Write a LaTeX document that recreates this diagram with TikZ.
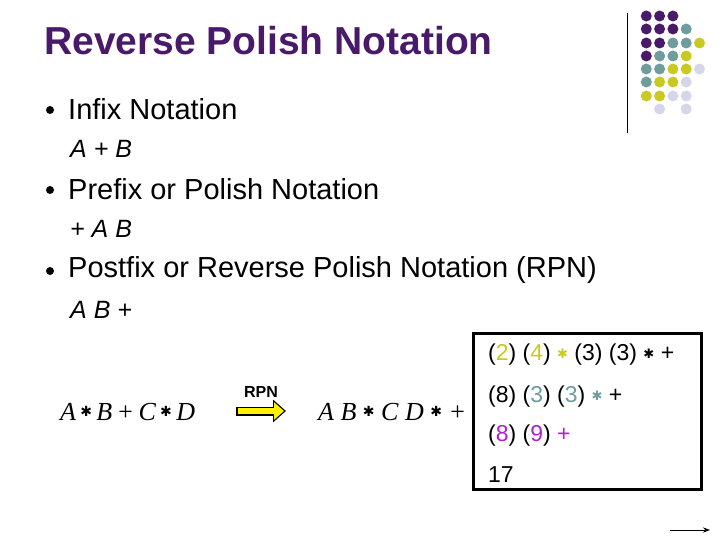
\documentclass[tikz,border=0pt]{standalone}
\usepackage{fontspec}
\setmainfont{Liberation Sans}
\newfontfamily\tms{Liberation Serif}
\newfontfamily\djvfont{DejaVu Sans}
\usetikzlibrary{arrows.meta}
\definecolor{pur}{HTML}{4A1A6A}
\definecolor{tea}{HTML}{6F9C9C}
\definecolor{yel}{HTML}{C9C923}
\definecolor{lav}{HTML}{D6D6EA}
\definecolor{mag}{HTML}{B020D0}
\newcommand{\hst}{{\djvfont\fontsize{14}{14}\selectfont\raisebox{4pt}{✱}}}
\newcommand{\bst}{{\djvfont\fontsize{13}{13}\selectfont\raisebox{2pt}{✱}}}
\newcommand{\myspc}{\kern6.5pt}
\tikzset{txt/.style={anchor=west,inner sep=0pt},
 bul/.style={circle,fill=black,inner sep=0pt,minimum size=8pt},
 dot/.style={circle,inner sep=0pt,minimum size=11pt}}
\begin{document}
\begin{tikzpicture}[x=1pt,y=-1pt]
\useasboundingbox (0,0) rectangle (720,540);
\node[txt,text=pur,font=\bfseries\fontsize{39}{44}\selectfont] (title) at (44,41) {Reverse Polish Notation};
\draw[thin] (627,13) -- (627,133);
\foreach \r/\cols in {16/{pur,pur,pur},29/{pur,pur,pur,tea},43/{pur,pur,tea,tea,yel},56/{pur,tea,tea,yel},69/{tea,tea,yel,yel,lav},82/{tea,yel,yel,lav},96/{yel,yel,lav,lav}}{
 \foreach \c [count=\i] in \cols { \node[dot,fill=\c] (d\r\i) at (633+13.3*\i,\r) {}; }}
\node[dot,fill=lav] (e1) at (659.6,109) {};
\node[dot,fill=lav] (e2) at (686.2,109) {};
\def\bs{\fontsize{29}{34}\selectfont}
\def\ss{\fontsize{25}{30}\selectfont\itshape}
\node[bul] (b1) at (50,110) {}; \node[txt,font=\bs] (t1) at (68,109) {Infix Notation};
\node[txt,font=\ss] (s1) at (70,149) {A + B};
\node[bul] (b2) at (50,190) {}; \node[txt,font=\bs] (t2) at (68,189) {Prefix or Polish Notation};
\node[txt,font=\ss] (s2) at (70,229) {+ A B};
\node[bul] (b3) at (50,271) {}; \node[txt,font=\bs] (t3) at (68,270) {Postfix or Reverse Polish Notation (RPN)};
\node[txt,font=\ss] (s3) at (70,310) {A B +};
\node[txt,font=\tms\itshape\fontsize{26}{30}\selectfont] (inf) at (60,412) {A\,\hst\,B\,+\,C\,\hst\,D};
\node[txt,font=\tms\itshape\fontsize{26}{30}\selectfont] (pos) at (318,412) {A\myspc B\myspc\hst\myspc C\myspc D\myspc\hst\myspc +};
\node[font=\bfseries\fontsize{16}{18}\selectfont] (rpn) at (261,392) {RPN};
\coordinate (a1) at (236,411); \coordinate (a2) at (286,411);
\draw[black,line width=9pt,-{Triangle[length=13pt,width=22pt]}] (a1) -- (a2);
\draw[yellow,line width=6pt,-{Triangle[length=10pt,width=17pt]}] ([xshift=1.5pt]a1) -- ([xshift=-2pt]a2);
\draw[line width=3pt] (473,333) rectangle (701,489);
\def\fs{\fontsize{23}{27}\selectfont}
\node[txt,font=\fs] (r1) at (488,355) {(\textcolor{yel}{2}) (\textcolor{yel}{4}) \textcolor{yel}{\bst} (3) (3) \bst\ +};
\node[txt,font=\fs] (r2) at (488,397) {(8) (\textcolor{tea}{3}) (\textcolor{tea}{3}) \textcolor{tea}{\bst} +};
\node[txt,font=\fs] (r3) at (488,436) {(\textcolor{mag}{8}) (\textcolor{mag}{9}) \textcolor{mag}{+}};
\node[txt,font=\fs] (r4) at (488,475) {17};
\coordinate (c1) at (670,530); \coordinate (c2) at (710,530);
\draw[-{Stealth[length=7pt]},line width=1pt] (c1) -- (c2);
\end{tikzpicture}
\end{document}
